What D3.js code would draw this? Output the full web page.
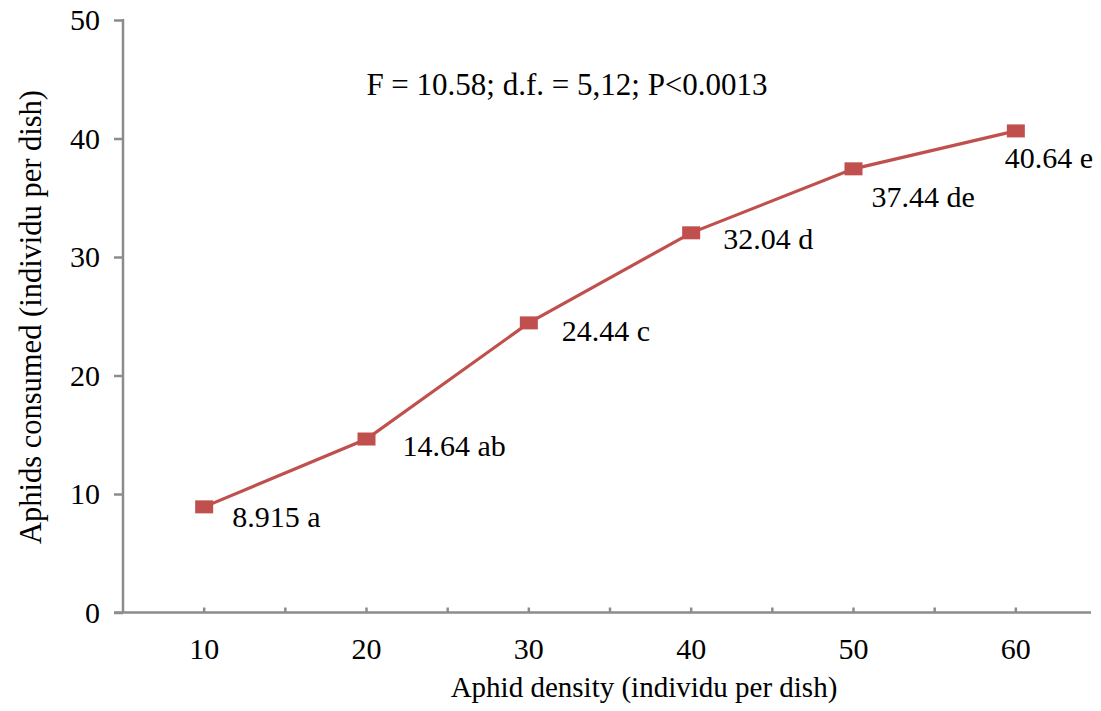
<!DOCTYPE html>
<html>
<head>
<meta charset="utf-8">
<script src="https://cdn.jsdelivr.net/npm/d3@7"></script>
<style>
  body { margin: 0; background: #fff; }
  text { font-family: "Liberation Serif", "Times New Roman", serif; fill: #000; }
</style>
</head>
<body>
<div id="chart"></div>
<script>
// data
var densities = [10, 20, 30, 40, 50, 60];
var consumed = [8.915, 14.64, 24.44, 32.04, 37.44, 40.64];
var letters = ["a", "ab", "c", "d", "de", "e"];
var yTicks = [0, 10, 20, 30, 40, 50];
var statsText = "F = 10.58; d.f. = 5,12; P<0.0013";

// where each value label sits relative to its marker, plus left padding of its white box (layout only)
var labelOffsets = [[28, 20, 8], [36, 17, 8], [33, 18, 20], [32, 16, 8], [18, 38, 8], [-11, 37, 8]];

var width = 1101, height = 711;
var axisColor = "#8c8c8c", lineColor = "#c0504d";
var fontSize = "30px";

var svg = d3.select("#chart")
  .append("svg")
    .attr("width", width)
    .attr("height", height);

// scales
var x = d3.scaleBand()
  .domain(densities)
  .range([123, 1097])
  .padding(0);

var y = d3.scaleLinear()
  .domain([0, 50])
  .range([612.5, 20]);

var cx = function(d) { return x(d) + x.bandwidth() / 2; };

// y axis
var yAxis = svg.append("g")
  .attr("transform", "translate(123,0)")
  .call(d3.axisLeft(y).tickValues(yTicks).tickSize(9).tickPadding(14));
yAxis.select(".domain").remove();
yAxis.selectAll(".tick line").attr("stroke", axisColor).attr("stroke-width", 2.5);
yAxis.selectAll(".tick text")
  .style("font-family", "Liberation Serif")
  .style("font-size", fontSize)
  .attr("fill", "#000");
yAxis.append("line")
  .attr("y1", y(50) - 1).attr("y2", y(0))
  .attr("stroke", axisColor).attr("stroke-width", 2.5);

// x axis: line, ticks at band centres and band edges
var xAxis = svg.append("g").attr("transform", "translate(0," + y(0) + ")");
xAxis.append("line")
  .attr("x1", 114).attr("x2", 1091)
  .attr("stroke", axisColor).attr("stroke-width", 2.5);

var tickXs = densities.map(cx).concat(densities.slice(1).map(function(d) { return x(d); }));
xAxis.selectAll(".xtick")
  .data(tickXs)
  .enter()
  .append("line")
    .attr("class", "xtick")
    .attr("x1", function(d) { return d; })
    .attr("x2", function(d) { return d; })
    .attr("y1", 0).attr("y2", -5)
    .attr("stroke", axisColor).attr("stroke-width", 2.5);

xAxis.selectAll(".xlabel")
  .data(densities)
  .enter()
  .append("text")
    .attr("class", "xlabel")
    .attr("x", cx)
    .attr("y", 46)
    .attr("text-anchor", "middle")
    .style("font-size", fontSize)
    .text(function(d) { return d; });

// axis titles
svg.append("text")
  .attr("x", 644).attr("y", 697)
  .attr("text-anchor", "middle")
  .style("font-size", "29px")
  .text("Aphid density (individu per dish)");

svg.append("text")
  .attr("transform", "translate(41,317) rotate(-90)")
  .attr("text-anchor", "middle")
  .style("font-size", "30.5px")
  .text("Aphids consumed (individu per dish)");

// line
var points = densities.map(function(d, i) { return { x: d, y: consumed[i], l: letters[i], o: labelOffsets[i] }; });

var line = d3.line()
  .x(function(d) { return cx(d.x); })
  .y(function(d) { return y(d.y); });

svg.append("path")
  .datum(points)
  .attr("d", line)
  .attr("fill", "none")
  .attr("stroke", lineColor)
  .attr("stroke-width", 3.2);

// value labels with white boxes
var lab = svg.selectAll(".vlabel")
  .data(points)
  .enter()
  .append("g")
    .attr("class", "vlabel");

lab.append("text")
  .attr("x", function(d) { return cx(d.x) + d.o[0]; })
  .attr("y", function(d) { return y(d.y) + d.o[1]; })
  .style("font-size", fontSize)
  .text(function(d) { return d.y + " " + d.l; });

lab.each(function(d) {
  var g = d3.select(this);
  var bb = g.select("text").node().getBBox();
  g.insert("rect", "text")
    .attr("x", bb.x - d.o[2]).attr("y", bb.y + 4)
    .attr("width", bb.width + d.o[2] + 6).attr("height", bb.height)
    .attr("fill", "#fff");
});

// markers
svg.selectAll(".marker")
  .data(points)
  .enter()
  .append("rect")
    .attr("class", "marker")
    .attr("x", function(d) { return cx(d.x) - 9; })
    .attr("y", function(d) { return y(d.y) - 6.5; })
    .attr("width", 18)
    .attr("height", 13)
    .attr("fill", lineColor);

// statistics
svg.append("text")
  .attr("x", 567).attr("y", 95)
  .attr("text-anchor", "middle")
  .style("font-size", "31px")
  .text(statsText);
</script>
</body>
</html>
